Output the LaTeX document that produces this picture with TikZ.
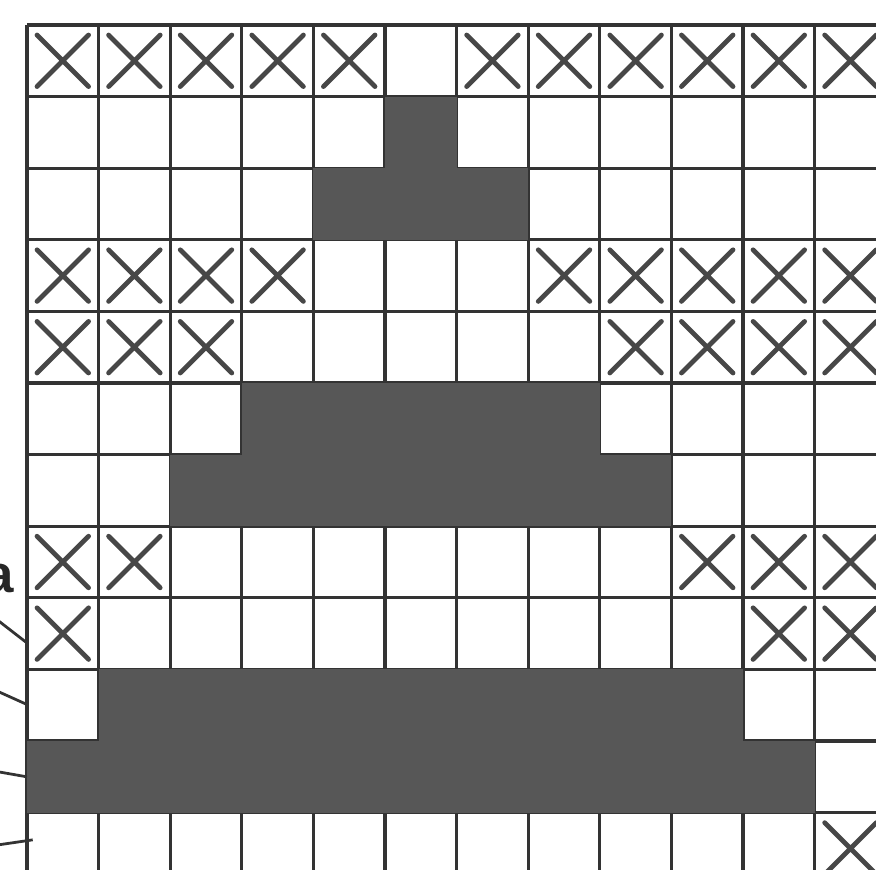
\documentclass[tikz,border=0pt]{standalone}
\usepackage{fontspec}
\setsansfont{Liberation Sans}
\usetikzlibrary{calc}
\tikzset{gridline/.style={line width=1.25pt,draw=black!80},cross/.style={line width=1.9pt,draw=black!72,line cap=round},dark/.style={fill=black!66},leader/.style={line width=1.1pt,draw=black!80}}
\newcommand{\Xcell}[2]{\draw[cross] (#1+.14,#2+.14)--(#1+.86,#2+.86) (#1+.86,#2+.14)--(#1+.14,#2+.86);}
\begin{document}
\begin{tikzpicture}[x=1cm,y=-1cm]
\useasboundingbox (-.377,-.349) rectangle (11.857,11.788);\clip (-.377,-.349) rectangle (11.857,11.788);
\draw[gridline] (0,0) grid (12.6,12.6);
% dark rows: row/first/last column
\foreach \r/\a/\b in {1/5/5,2/4/6,5/3/7,6/2/8,9/1/9,10/0/10}{\fill[dark] (\a,\r) rectangle (\b+1,\r+1);}
% crossed cells
\foreach \r/\cols in {0/{0,1,2,3,4,6,7,8,9,10,11},3/{0,1,2,3,7,8,9,10,11},4/{0,1,2,8,9,10,11},7/{0,1,9,10,11},8/{0,10,11},11/{11}}{\foreach \c in \cols {\Xcell{\c}{\r}}}
\node[font=\sffamily\bfseries\fontsize{21}{24}\selectfont,text=black!85,inner sep=0pt,anchor=base] (lbla) at (-.39,7.93){a};
\coordinate (s1) at (-.4,8.32);\coordinate (e1) at (0,8.63);
\coordinate (s2) at (-.4,9.31);\coordinate (e2) at (0,9.49);
\coordinate (s3) at (-.4,10.43);\coordinate (e3) at (0,10.50);
\coordinate (s4) at (-.4,11.45);\coordinate (e4) at (.08,11.38);
\foreach \i in {1,...,4}{\draw[leader] (s\i)--(e\i);}
\end{tikzpicture}
\end{document}
